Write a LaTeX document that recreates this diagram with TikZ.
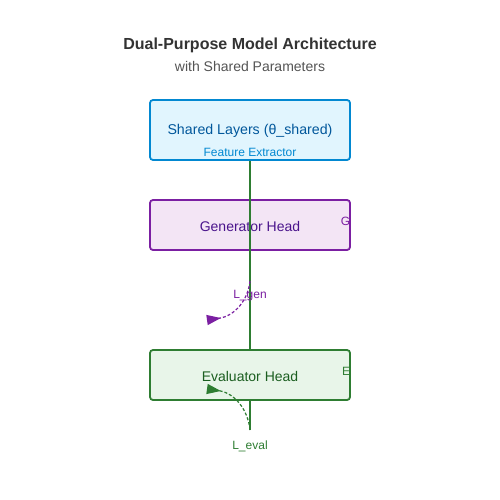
\documentclass[tikz,border=0pt]{standalone}
\usepackage{fontspec}
\setmainfont{Liberation Sans}
\usetikzlibrary{arrows.meta}
\definecolor{sharedfill}{HTML}{E1F5FE}
\definecolor{shareddraw}{HTML}{0288D1}
\definecolor{sharedtext}{HTML}{01579B}
\definecolor{genfill}{HTML}{F3E5F5}
\definecolor{gendraw}{HTML}{7B1FA2}
\definecolor{gentext}{HTML}{4A148C}
\definecolor{evalfill}{HTML}{E8F5E9}
\definecolor{evaldraw}{HTML}{2E7D32}
\definecolor{evaltext}{HTML}{1B5E20}
\begin{document}
\begin{tikzpicture}[x=1pt,y=-1pt,
  block/.style={rounded corners=3pt, line width=1.8pt, minimum width=200pt, inner sep=0pt},
  lbl/.style={font=\fontsize{12}{14}\selectfont},
  loss/.style={dashed, dash pattern=on 3pt off 2pt, line width=1.2pt,
    -{Triangle[reversed,length=14pt,width=10pt]}}]

 \fill[white] (0,0) rectangle (500,500);
 \useasboundingbox (0,0) rectangle (500,500);

 \node[font=\bfseries\fontsize{16}{19}\selectfont, text=black!80] (title) at (250,45) {Dual-Purpose Model Architecture};
 \node[font=\fontsize{14}{17}\selectfont, text=black!67] (sub) at (250,66) {with Shared Parameters};

 \node[block, draw=shareddraw, fill=sharedfill, minimum height=60pt] (shared) at (250,130) {};
 \node[text=sharedtext, font=\fontsize{14.2}{17}\selectfont] (sharedtxt) at (250,131) {Shared Layers (θ\_shared)};
 \node[text=shareddraw, font=\fontsize{12}{14}\selectfont] (feat) at (250,152) {Feature Extractor};

 \node[block, draw=gendraw, fill=genfill, minimum height=50pt] (gen) at (250,225) {};
 \node[text=gentext, font=\fontsize{14}{17}\selectfont] (gentxt) at (250,226) {Generator Head};
 \node[lbl, text=gendraw] (g) at (345.5,221) {G};

 \coordinate (out) at (250,430);
 \draw[evaldraw, line width=1.8pt] (shared.south) -- (250,350);

 \node[block, draw=evaldraw, fill=evalfill, minimum height=50pt] (eval) at (250,375) {};
 \node[text=evaltext, font=\fontsize{14}{17}\selectfont] (evaltxt) at (250,376) {Evaluator Head};
 \node[lbl, text=evaldraw] (e) at (346,371) {E};
 \draw[evaldraw, line width=1.8pt] (eval.south) -- (out);

 \node[lbl, text=gendraw] (lgen) at (250,296) {L\_gen};
 \node[lbl, text=evaldraw] (leval) at (250,446) {L\_eval};

 % gradient paths
 \coordinate (gs) at (250,281);
 \coordinate (ge) at (207,320);
 \coordinate (ee) at (207,389);
 \draw[loss, gendraw] (gs) .. controls (248,300) and (235,316) .. (ge);
 \draw[loss, evaldraw] (out) .. controls (248,410) and (235,393) .. (ee);

\end{tikzpicture}
\end{document}
